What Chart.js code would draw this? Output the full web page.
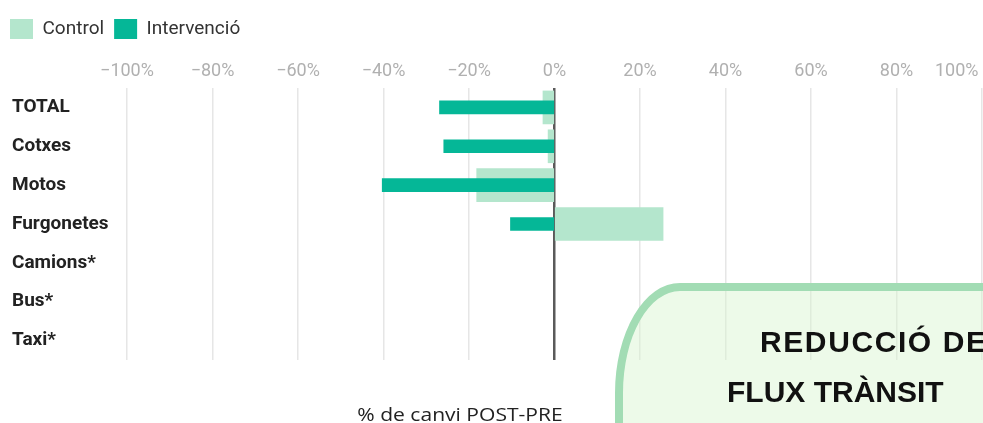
<!DOCTYPE html>
<html>
<head>
<meta charset="utf-8">
<script src="https://cdn.jsdelivr.net/npm/chart.js@4.4.1/dist/chart.umd.min.js"></script>
<style>
  html, body { margin: 0; padding: 0; background: #fff; overflow: hidden; }
  #wrap { position: relative; width: 983px; height: 423px; overflow: hidden; }
  #chart { position: absolute; left: 0; top: 0; }
  .caption { position: absolute; left: 260px; width: 400px; top: 402px; text-align: center;
    font-family: 'Open Sans', sans-serif; font-size: 18px; color: #222; line-height: 24px;
    transform: scaleX(1.17); transform-origin: 200px 0; }
  .note { position: absolute; left: 615px; top: 283px; width: 520px; height: 300px; box-sizing: border-box;
    border: 8px solid #a2dcb4; border-top-left-radius: 65px 110px; background: rgba(214, 245, 206, 0.45); }
  .note-line { position: absolute; white-space: nowrap; font-family: 'Liberation Sans', Arial, sans-serif;
    font-weight: bold; font-size: 30px; line-height: 30px; color: #111; }
</style>
</head>
<body>
<div id="wrap">
  <canvas id="chart" width="983" height="423"></canvas>
  <div class="caption">% de canvi POST-PRE</div>
  <div class="note"></div>
  <div class="note-line" style="left:760px; top:327px; letter-spacing:1.6px;">REDUCCIÓ DEL</div>
  <div class="note-line" style="left:727px; top:377px;">FLUX TRÀNSIT</div>
</div>
<script>
// ── data ────────────────────────────────────────────────────────────────
const categories = ['TOTAL', 'Cotxes', 'Motos', 'Furgonetes', 'Camions*', 'Bus*', 'Taxi*'];
const controlValues = [-2.7, -1.5, -18.2, 25.4, null, null, null];
const intervencioValues = [-26.9, -25.9, -40.3, -10.3, null, null, null];
const xTicks = [-100, -80, -60, -40, -20, 0, 20, 40, 60, 80, 100];

const CONTROL = '#b4e6cd';
const INTERV = '#05b797';

function tickLabel(v) {
    const txt = (v < 0 ? '\u2212' + Math.abs(v) : v) + '%';
    // last label sits flush with the right edge
    return v === xTicks[xTicks.length - 1] ? txt + '\u2007'.repeat(5) : txt;
}

// category labels start 12px from the left edge
const shiftLabels = {
    id: 'shiftLabels',
    afterLayout(chart) { chart.scales.y.left = 12; }
};

new Chart(document.getElementById('chart'), {
    type: 'bar',
    data: {
        labels: categories,
        datasets: [
            { label: 'Control', data: controlValues, backgroundColor: CONTROL, barThickness: 33, grouped: false, order: 2 },
            { label: 'Intervenció', data: intervencioValues, backgroundColor: INTERV, barThickness: 13, grouped: false, order: 1 }
        ]
    },
    options: {
        indexAxis: 'y',
        responsive: false,
        animation: false,
        layout: { padding: { top: 9, left: 0, right: 1, bottom: 63 } },
        plugins: {
            tooltip: { enabled: false },
            legend: {
                position: 'top',
                align: 'start',
                labels: {
                    sort: (a, b) => a.datasetIndex - b.datasetIndex,
                    boxWidth: 23,
                    boxHeight: 20,
                    padding: 10,
                    color: '#333',
                    font: { family: 'Roboto', size: 19 }
                }
            }
        },
        scales: {
            x: {
                position: 'top',
                min: -100,
                max: 100,
                afterBuildTicks: s => { s.ticks = xTicks.map(v => ({ value: v })); },
                afterFit: s => { s.height = 39; s.paddingLeft = 0; s.paddingRight = 0; },
                border: { display: false },
                grid: {
                    drawTicks: false,
                    color: ctx => ctx.tick && ctx.tick.value === 0 ? 'rgba(0,0,0,0)' : '#e6e6e6',
                    lineWidth: 1.5
                },
                ticks: {
                    padding: 6,
                    color: '#b0b0b0',
                    font: { family: 'Roboto', size: 18 },
                    maxRotation: 0,
                    autoSkip: false,
                    callback: v => tickLabel(v)
                }
            },
            zero: {
                axis: 'x',
                position: 'bottom',
                min: -100,
                max: 100,
                z: 1,
                afterFit: s => { s.height = 0; },
                border: { display: false },
                ticks: { display: false },
                grid: {
                    drawTicks: false,
                    color: ctx => ctx.tick && ctx.tick.value === 0 ? '#5a5a5a' : 'rgba(0,0,0,0)',
                    lineWidth: 2.5
                }
            },
            y: {
                afterFit: s => { s.width = 127; },
                border: { display: false },
                grid: { display: false, drawTicks: false },
                ticks: {
                    crossAlign: 'far',
                    color: '#222',
                    font: { family: 'Roboto', size: 19, weight: 'bold' }
                }
            }
        }
    },
    plugins: [shiftLabels]
});
</script>
</body>
</html>
